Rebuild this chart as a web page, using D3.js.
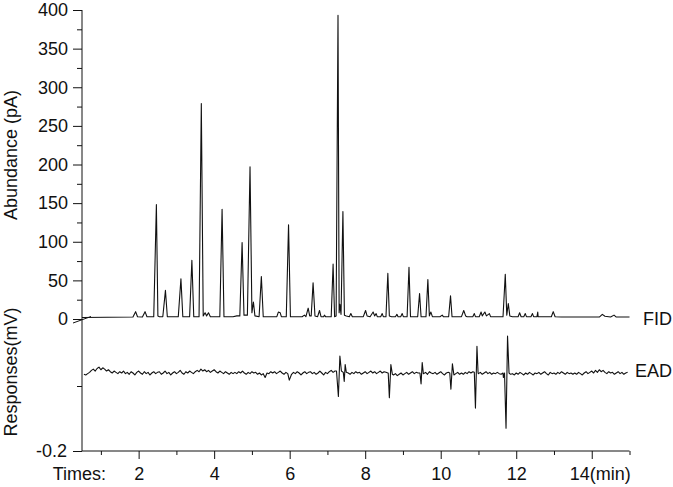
<!DOCTYPE html>
<html><head><meta charset="utf-8">
<script src="https://cdn.jsdelivr.net/npm/d3@7"></script>
<style>
body{margin:0;background:#fff;}
svg{display:block;font-family:"Liberation Sans",Arial,sans-serif;}
</style></head>
<body>
<svg id="c" width="673" height="487"></svg>
<script>
// ---- data ----
const xTicks = [2,4,6,8,10,12,14];
const xMinorTicks = [1,3,5,7,9,11,13,15];
const fidTicks = [0,50,100,150,200,250,300,350,400];
const fidMinorTicks = [25,75,125,175,225,275,325,375];
const eadTicks = [-0.2];
const eadMinorTicks = [-0.1];

// FID trace: [time (min), abundance (pA)]
const fidTrace = [[0.5,2],[1.85,2.5],[1.92,9.5],[1.97,3],[2.1,2.5],[2.17,9.5],[2.22,3],[2.4,3],[2.47,148],[2.51,4],[2.55,3],[2.64,3],[2.71,37],[2.76,3],[3.05,3],[3.12,52],[3.17,3],[3.35,3],[3.41,76],[3.46,3],[3.6,3],[3.66,279],[3.71,4],[3.76,8],[3.8,4],[3.85,8],[3.9,3],[4.15,3],[4.21,142],[4.26,3],[4.5,3],[4.6,4],[4.68,4],[4.74,99],[4.79,5],[4.88,5],[4.95,197],[5.0,8],[5.04,22],[5.08,4],[5.19,3],[5.25,55],[5.3,3],[5.66,3],[5.7,9],[5.75,8],[5.78,3],[5.91,3],[5.97,122],[6.02,3],[6.33,3],[6.39,5],[6.43,3],[6.49,14],[6.53,4],[6.57,4],[6.62,47],[6.67,4],[6.74,3],[6.79,11],[6.83,3],[6.9,3],[6.92,5],[6.95,3],[7.1,3],[7.15,71],[7.19,3],[7.23,4],[7.28,393],[7.31,8],[7.33,19],[7.36,6],[7.41,139],[7.45,5],[7.5,4],[7.58,3],[7.62,7],[7.66,3],[7.95,3],[8.01,11],[8.05,4],[8.13,3],[8.21,9],[8.25,4],[8.29,7],[8.32,3],[8.41,3],[8.45,7],[8.48,3],[8.55,3],[8.6,59],[8.64,4],[8.7,3],[8.8,3],[8.84,6],[8.87,3],[8.94,3],[8.98,7],[9.01,3],[9.11,3],[9.16,67],[9.2,3],[9.39,3],[9.44,33],[9.48,3],[9.61,3],[9.66,51],[9.7,4],[9.74,9],[9.78,3],[9.98,3],[10.04,5],[10.07,3],[10.21,3],[10.26,30],[10.3,3],[10.55,3],[10.61,11],[10.66,4],[10.7,3],[10.85,3],[10.89,7],[10.92,3],[11.02,3],[11.07,9],[11.1,4],[11.17,9],[11.21,4],[11.29,7],[11.32,3],[11.65,3],[11.71,58],[11.75,5],[11.79,20],[11.83,4],[11.9,3],[12.05,3],[12.09,8],[12.13,3],[12.2,3],[12.24,7],[12.27,3],[12.39,3],[12.43,7],[12.46,3],[12.55,3],[12.57,9],[12.58,3],[12.93,3],[12.98,9.5],[13.03,3],[13.2,2.5],[14.2,2.5],[14.28,6],[14.35,3.5],[14.45,3],[14.5,2.5],[14.59,5],[14.65,2.5],[15,2.5]];

// EAD baseline, sampled every 0.05 min from 0.55 min (null = covered by a response)
const eadStart = 0.55, eadStep = 0.05;
const eadBaseline = [
 -0.082,-0.083,-0.081,-0.079,-0.076,-0.074,-0.077,-0.073,-0.071,-0.075,-0.072,-0.074,-0.077,-0.075,-0.078,-0.080,-0.077,-0.079,-0.081,-0.078,
 -0.080,-0.077,-0.081,-0.079,-0.082,-0.078,-0.080,-0.083,-0.079,-0.077,-0.080,-0.082,-0.078,-0.081,-0.079,-0.083,-0.080,-0.078,-0.081,-0.079,
 -0.078,-0.082,-0.080,-0.077,-0.081,-0.079,-0.083,-0.080,-0.078,-0.081,-0.079,-0.076,-0.080,-0.082,-0.078,-0.080,-0.077,-0.079,-0.081,-0.078,
 -0.076,-0.078,-0.074,-0.077,-0.075,-0.078,-0.076,-0.079,-0.077,-0.075,-0.078,-0.080,-0.077,-0.079,-0.081,-0.078,-0.080,-0.082,-0.079,-0.081,
 -0.079,-0.081,-0.078,-0.080,-0.077,-0.080,-0.082,-0.079,-0.081,-0.078,-0.080,-0.079,-0.082,-0.080,-0.083,-0.081,-0.087,-0.080,-0.081,-0.078,
 -0.080,-0.078,-0.081,-0.079,-0.077,-0.080,-0.082,-0.079,-0.081,null,-0.082,-0.079,-0.081,-0.078,-0.080,-0.083,-0.080,-0.078,-0.081,-0.079,
 -0.078,-0.081,-0.079,-0.082,-0.080,-0.077,-0.080,-0.083,-0.079,-0.081,-0.078,-0.076,-0.079,-0.077,null,null,null,null,null,null,
 -0.080,-0.082,-0.079,-0.081,-0.078,-0.080,-0.079,-0.082,-0.080,-0.078,-0.081,-0.079,-0.077,-0.080,-0.078,-0.081,-0.079,-0.077,-0.080,-0.078,
 -0.079,-0.080,null,null,-0.083,-0.081,-0.084,-0.082,-0.080,-0.083,-0.081,-0.079,-0.082,-0.080,-0.078,-0.081,-0.079,-0.080,null,null,
 -0.081,-0.079,-0.082,-0.078,-0.080,-0.081,-0.079,-0.082,-0.080,-0.078,-0.081,-0.083,-0.080,-0.079,null,null,null,-0.081,-0.079,-0.082,
 -0.080,-0.082,-0.079,-0.081,-0.078,-0.080,-0.078,null,null,-0.081,-0.079,-0.082,-0.080,-0.078,-0.081,-0.079,-0.082,-0.080,-0.081,-0.079,
 -0.081,-0.082,-0.080,null,null,null,-0.082,-0.081,-0.083,-0.080,-0.082,-0.079,-0.081,-0.083,-0.080,-0.082,-0.079,-0.081,-0.083,-0.080,
 -0.081,-0.079,-0.082,-0.080,-0.078,-0.081,-0.083,-0.079,-0.081,-0.080,-0.082,-0.079,-0.081,-0.078,-0.080,-0.082,-0.079,-0.081,-0.080,-0.082,
 -0.080,-0.082,-0.079,-0.081,-0.083,-0.080,-0.078,-0.081,-0.079,-0.077,-0.080,-0.076,-0.079,-0.075,-0.078,-0.076,-0.079,-0.081,-0.078,-0.080,
 -0.079,-0.082,-0.080,-0.078,-0.081,-0.079,-0.082,-0.080,-0.079
];
// EAD responses: [time (min), response (mV)]
const eadResponses = [[5.99,-0.091],[7.24,-0.077],[7.29,-0.116],[7.33,-0.054],[7.37,-0.077],[7.42,-0.079],[7.445,-0.093],[7.47,-0.067],[7.5,-0.079],
 [8.61,-0.080],[8.64,-0.118],[8.68,-0.067],[8.72,-0.082],
 [9.45,-0.080],[9.48,-0.097],[9.51,-0.064],[9.54,-0.081],
 [10.24,-0.080],[10.27,-0.105],[10.31,-0.066],[10.35,-0.083],
 [10.89,-0.079],[10.92,-0.134],[10.96,-0.039],[10.99,-0.080],
 [11.66,-0.087],[11.69,-0.080],[11.73,-0.165],[11.77,-0.023],[11.81,-0.080]];

// ---- build ----
const svg = d3.select("#c");
const x = d3.scaleLinear().domain([0.5,15]).range([82,629.5]);
const yF = d3.scaleLinear().domain([0,400]).range([319,10]);
const yE = d3.scaleLinear().domain([-0.2,0]).range([451,321]);
const ink = "#111";
const fs = 18;

const eadTrace = eadBaseline.map((v,i)=>[+(eadStart+i*eadStep).toFixed(3), v])
  .filter(d=>d[1]!==null).concat(eadResponses).sort((a,b)=>a[0]-b[0]);

svg.append("path").datum(fidTrace)
  .attr("d", d3.line().x(d=>x(d[0])).y(d=>yF(d[1])))
  .attr("fill","none").attr("stroke",ink).attr("stroke-width",1.1).attr("stroke-linejoin","round");
svg.append("path").datum(eadTrace)
  .attr("d", d3.line().x(d=>x(d[0])).y(d=>yE(d[1])))
  .attr("fill","none").attr("stroke",ink).attr("stroke-width",1.1).attr("stroke-linejoin","round");

function styleAxis(g){
  g.select(".domain").remove();
  g.selectAll("line").attr("stroke",ink);
  g.selectAll("text").attr("font-size",fs).attr("fill",ink).attr("font-family","'Liberation Sans',Arial,sans-serif");
}
// left axis line
svg.append("line").attr("x1",82).attr("x2",82).attr("y1",yF(400)).attr("y2",yE(-0.2)).attr("stroke",ink);
svg.append("g").attr("transform","translate(82,0)")
  .call(d3.axisLeft(yF).tickValues(fidTicks).tickSize(9).tickPadding(5)).call(styleAxis);
svg.append("g").attr("transform","translate(82,0)")
  .call(d3.axisLeft(yF).tickValues(fidMinorTicks).tickSize(5).tickFormat("")).call(styleAxis);
svg.append("g").attr("transform","translate(82,0)")
  .call(d3.axisLeft(yE).tickValues(eadTicks).tickSize(9).tickPadding(6)
    .tickFormat(d=>d3.format(".1f")(d).replace("\u2212","-"))).call(styleAxis);
svg.append("g").attr("transform","translate(82,0)")
  .call(d3.axisLeft(yE).tickValues(eadMinorTicks).tickSize(5).tickFormat("")).call(styleAxis);
// break mark
svg.append("line").attr("x1",73).attr("y1",323).attr("x2",91).attr("y2",316.5).attr("stroke",ink).attr("stroke-width",1);

// bottom axis
svg.append("line").attr("x1",82).attr("x2",x(15)).attr("y1",451).attr("y2",451).attr("stroke",ink);
const gx = svg.append("g").attr("transform","translate(0,451)")
  .call(d3.axisBottom(x).tickValues(xTicks).tickSize(8).tickPadding(8).tickFormat(d=>d===14?"14(min)":d)).call(styleAxis);
gx.selectAll(".tick text").filter(d=>d===14).attr("dx",8);
svg.append("g").attr("transform","translate(0,451)")
  .call(d3.axisBottom(x).tickValues(xMinorTicks).tickSize(4).tickFormat("")).call(styleAxis);

svg.append("text").attr("x",106).attr("y",480).attr("text-anchor","end")
  .attr("font-size",fs).attr("fill",ink).text("Times:");

// titles
svg.append("text").attr("transform","translate(17,155) rotate(-90)").attr("text-anchor","middle")
  .attr("font-size",fs).attr("fill",ink).text("Abundance (pA)");
svg.append("text").attr("transform","translate(17,372) rotate(-90)").attr("text-anchor","middle")
  .attr("font-size",fs).attr("fill",ink).text("Responses(mV)");

// series labels
svg.append("text").attr("x",643).attr("y",325).attr("font-size",fs).attr("fill",ink).text("FID");
svg.append("text").attr("x",635).attr("y",377).attr("font-size",fs).attr("fill",ink).text("EAD");
</script>
</body></html>
